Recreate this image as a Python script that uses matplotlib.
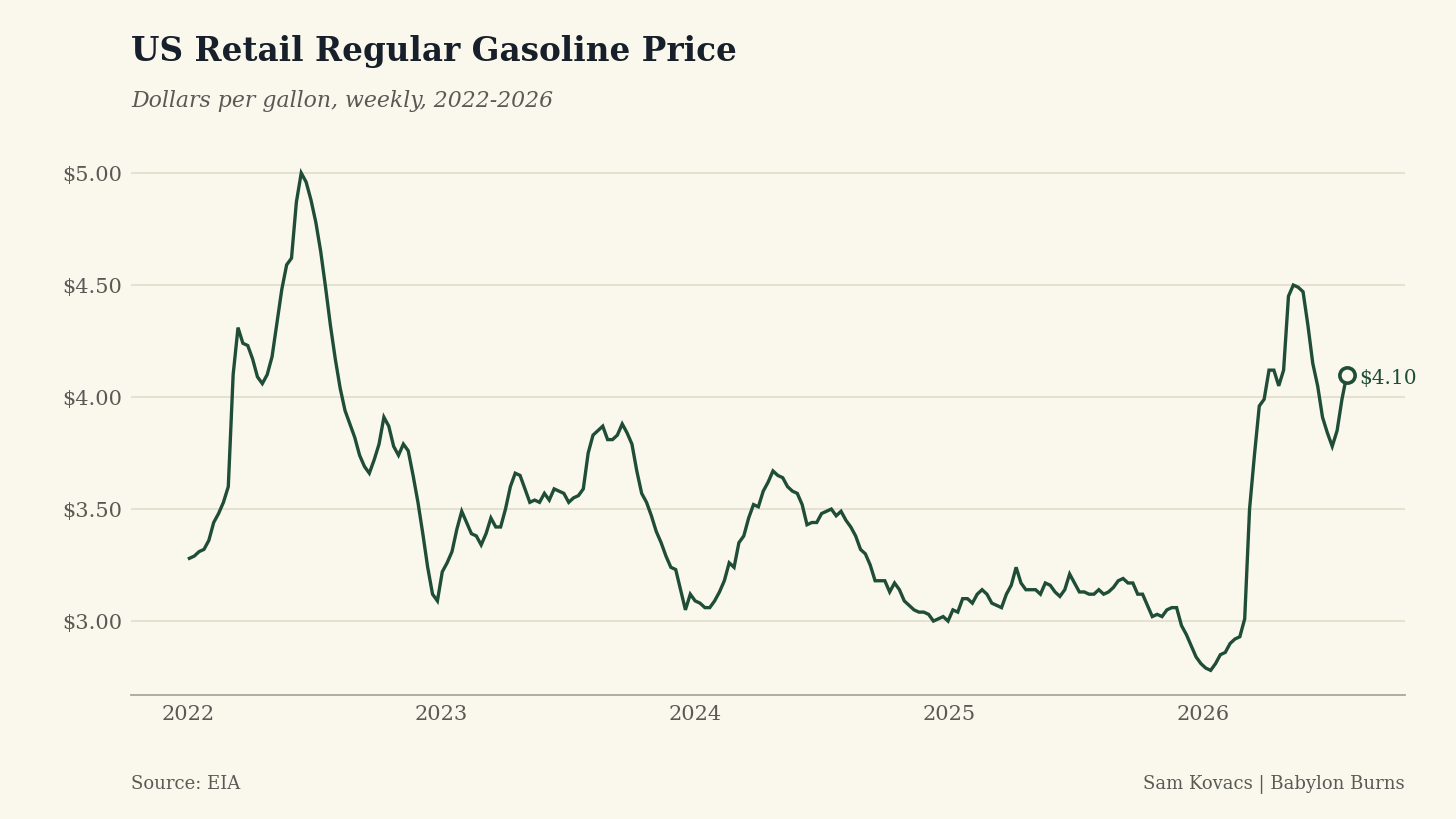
import matplotlib
matplotlib.use("Agg")
import matplotlib.pyplot as plt
import matplotlib.dates as mdates
import numpy as np
import pandas as pd

# ---- data ----
start_date = "2022-01-03"
prices = [
    3.28, 3.29, 3.31, 3.32, 3.36, 3.44, 3.48, 3.53, 3.60, 4.10, 4.31,
    4.24, 4.23, 4.17, 4.09, 4.06, 4.10, 4.18, 4.33, 4.48, 4.59,
    4.62, 4.87, 5.00, 4.96, 4.88, 4.78, 4.65, 4.49, 4.32, 4.17,
    4.04, 3.94, 3.88, 3.82, 3.74, 3.69, 3.66, 3.72, 3.79, 3.91,
    3.87, 3.78, 3.74, 3.79, 3.76, 3.65, 3.53, 3.39, 3.24, 3.12,
    3.09, 3.22, 3.26, 3.31, 3.41, 3.49, 3.44, 3.39, 3.38, 3.34,
    3.39, 3.46, 3.42, 3.42, 3.50, 3.60, 3.66, 3.65, 3.59, 3.53,
    3.54, 3.53, 3.57, 3.54, 3.59, 3.58, 3.57, 3.53, 3.55, 3.56,
    3.59, 3.75, 3.83, 3.85, 3.87, 3.81, 3.81, 3.83, 3.88, 3.84,
    3.79, 3.67, 3.57, 3.53, 3.47, 3.40, 3.35, 3.29, 3.24, 3.23,
    3.14, 3.05, 3.12, 3.09, 3.08, 3.06, 3.06, 3.09, 3.13, 3.18,
    3.26, 3.24, 3.35, 3.38, 3.46, 3.52, 3.51, 3.58, 3.62, 3.67,
    3.65, 3.64, 3.60, 3.58, 3.57, 3.52, 3.43, 3.44, 3.44, 3.48,
    3.49, 3.50, 3.47, 3.49, 3.45, 3.42, 3.38, 3.32, 3.30, 3.25,
    3.18, 3.18, 3.18, 3.13, 3.17, 3.14, 3.09, 3.07, 3.05, 3.04,
    3.04, 3.03, 3.00, 3.01, 3.02, 3.00, 3.05, 3.04, 3.10, 3.10,
    3.08, 3.12, 3.14, 3.12, 3.08, 3.07, 3.06, 3.12, 3.16, 3.24,
    3.17, 3.14, 3.14, 3.14, 3.12, 3.17, 3.16, 3.13, 3.11, 3.14,
    3.21, 3.17, 3.13, 3.13, 3.12, 3.12, 3.14, 3.12, 3.13, 3.15,
    3.18, 3.19, 3.17, 3.17, 3.12, 3.12, 3.07, 3.02, 3.03, 3.02,
    3.05, 3.06, 3.06, 2.98, 2.94, 2.89, 2.84, 2.81, 2.79, 2.78,
    2.81, 2.85, 2.86, 2.90, 2.92, 2.93, 3.01, 3.50, 3.74, 3.96,
    3.99, 4.12, 4.12, 4.05, 4.12, 4.45, 4.50, 4.49, 4.47, 4.32,
    4.15, 4.05, 3.91, 3.84, 3.78, 3.85, 3.99, 4.10,
]
dates = pd.date_range(start_date, periods=len(prices), freq="7D")
y_ticks = [3.00, 3.50, 4.00, 4.50, 5.00]
x_tick_years = [2022, 2023, 2024, 2025, 2026]

title = "US Retail Regular Gasoline Price"
subtitle = "Dollars per gallon, weekly, 2022-2026"
source = "Source: EIA"
credit = "Sam Kovacs | Babylon Burns"

# ---- style ----
BG = "#FAF8EC"
LINE = "#1F4D37"
GRID = "#DEDACA"
TXT = "#5A5A55"
TITLE_C = "#17202A"

plt.rcParams["font.family"] = ["DejaVu Serif"]

fig = plt.figure(figsize=(14.56, 8.19), dpi=100, facecolor=BG)
ax = fig.add_axes([131 / 1456, 1 - 695 / 819, (1405 - 131) / 1456, (695 - 150.6) / 819])
ax.set_facecolor(BG)

ax.plot(dates, prices, color=LINE, lw=2.4, solid_joinstyle="miter", zorder=3)
ax.plot(dates[-1], prices[-1], "o", ms=11, mfc=BG, mec=LINE, mew=2.6, zorder=4)
ax.annotate(f"${prices[-1]:.2f}", (dates[-1], prices[-1]), xytext=(9, -3),
            textcoords="offset points", va="center", ha="left",
            color=LINE, fontsize=14.5)

ax.set_ylim(2.67, 5.10)
base = mdates.date2num(pd.Timestamp("2022-01-01"))
ax.set_xlim(base - 0.2246 * 365.25, base + 4.796 * 365.25)

ax.set_yticks(y_ticks)
ax.set_yticklabels([f"${v:.2f}" for v in y_ticks])
ax.set_xticks([pd.Timestamp(f"{y}-01-01") for y in x_tick_years])
ax.set_xticklabels([str(y) for y in x_tick_years])
ax.tick_params(axis="both", length=0, labelsize=15, colors=TXT)
ax.tick_params(axis="y", pad=6.5)
ax.tick_params(axis="x", pad=7)
ax.grid(axis="y", color=GRID, lw=1.1, zorder=0)
for s in ["top", "right", "left"]:
    ax.spines[s].set_visible(False)
ax.spines["bottom"].set_color("#A9A797")
ax.spines["bottom"].set_linewidth(1.3)

fig.text(131 / 1456, 1 - 51 / 819, title, fontsize=23.5, fontweight="bold",
         color=TITLE_C, va="center", ha="left")
fig.text(131 / 1456, 1 - 101 / 819, subtitle, fontsize=15.85, style="italic",
         color=TXT, va="center", ha="left")
fig.text(131 / 1456, 1 - 784 / 819, source, fontsize=13, color=TXT,
         va="center", ha="left")
fig.text(1405 / 1456, 1 - 784 / 819, credit, fontsize=13, color=TXT,
         va="center", ha="right")

fig.savefig("out.png", dpi=100, facecolor=BG)
